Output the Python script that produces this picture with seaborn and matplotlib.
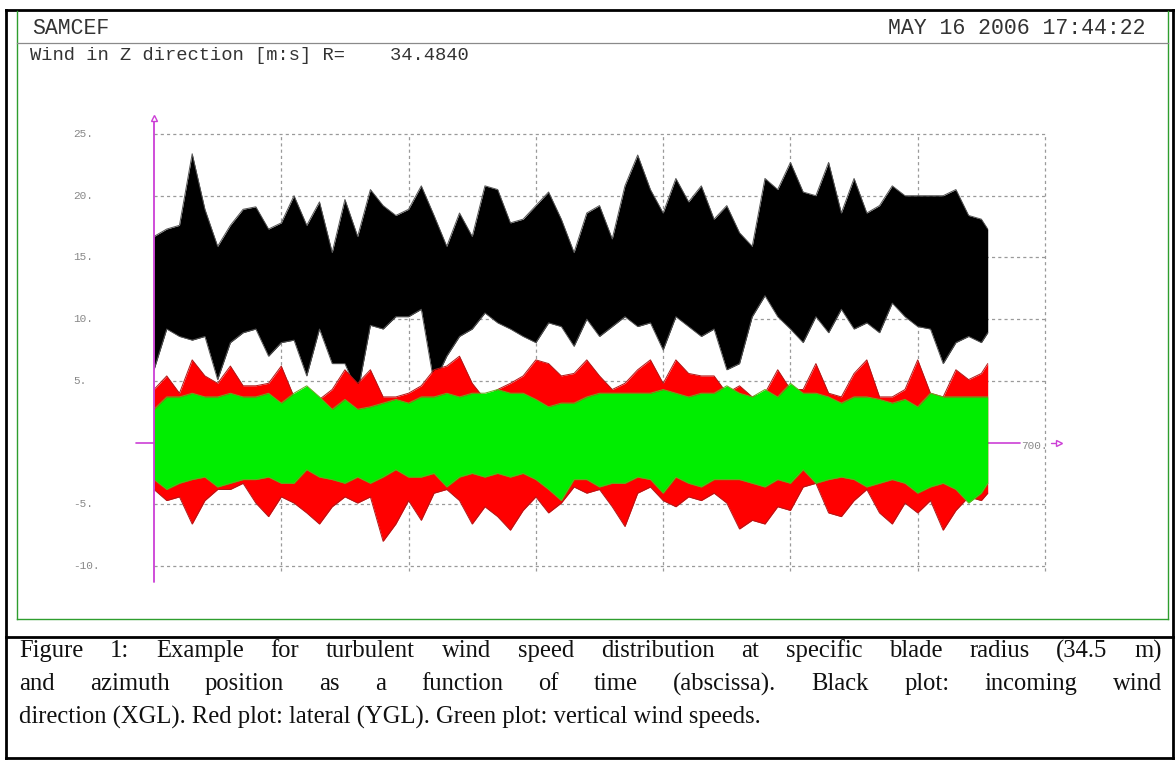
import numpy as np
import pandas as pd
import matplotlib
matplotlib.use("Agg")
import matplotlib.pyplot as plt
from matplotlib.lines import Line2D
import matplotlib.transforms as mtransforms
import seaborn as sns

sns.set_style("white")

# time of the trace (abscissa), envelopes of each wind component [m/s]
time = list(range(0, 651, 10)) + [655]

black_hi = [16.7, 17.3, 17.6, 23.4, 18.9, 15.9, 17.6, 18.9, 19.1, 17.3, 17.8, 20.0, 17.6, 19.5, 15.4, 19.7, 16.7,
            20.5, 19.2, 18.4, 18.9, 20.8, 18.4, 15.9, 18.6, 16.7, 20.8, 20.5, 17.8, 18.1, 19.2, 20.3, 18.1,
            15.4, 18.6, 19.2, 16.5, 20.8, 23.3, 20.5, 18.6, 21.4, 19.5, 20.8, 18.1, 19.2, 17.0, 15.9, 21.4, 20.5,
            22.7, 20.3, 20.0, 22.7, 18.6, 21.4, 18.6, 19.2, 20.8, 20.0, 20.0, 20.0, 20.0, 20.5, 18.4, 18.1, 17.3]
black_lo = [5.9, 9.2, 8.6, 8.3, 8.6, 5.1, 8.1, 8.9, 9.2, 7.0, 8.1, 8.3, 5.4, 9.2, 6.4, 6.4, 4.0,
            9.5, 9.2, 10.2, 10.2, 10.8, 4.8, 7.0, 8.6, 9.2, 10.5, 9.7, 9.2, 8.6, 8.1, 9.7, 9.4,
            7.8, 10.0, 8.6, 9.4, 10.2, 9.4, 9.7, 7.5, 10.2, 9.4, 8.6, 9.2, 5.9, 6.4, 10.2, 11.9, 10.2,
            9.2, 8.1, 10.2, 8.9, 10.8, 9.2, 9.7, 8.9, 11.3, 10.2, 9.4, 9.2, 6.4, 8.1, 8.6, 8.1, 8.9]
red_hi = [4.3, 5.4, 4.0, 6.7, 5.4, 4.8, 6.2, 4.6, 4.6, 4.8, 6.2, 3.7, 4.3, 3.5, 4.3, 5.9, 4.8,
          5.9, 3.7, 3.7, 4.0, 4.6, 5.9, 6.2, 7.0, 4.8, 3.5, 4.3, 4.8, 5.4, 6.7, 6.4, 5.4,
          5.6, 6.7, 5.4, 4.3, 4.8, 5.9, 6.7, 4.8, 6.7, 5.6, 5.4, 5.4, 4.0, 4.6, 3.7, 4.0, 5.9,
          4.3, 4.3, 6.4, 4.0, 3.7, 5.6, 6.7, 3.7, 3.7, 4.3, 6.7, 4.0, 3.7, 5.9, 5.1, 5.6, 6.4]
red_lo = [-3.8, -4.7, -4.4, -6.6, -4.7, -3.8, -3.8, -3.3, -4.9, -6.0, -4.4, -4.9, -5.7, -6.6, -5.2, -4.4, -4.9,
          -4.4, -8.0, -6.6, -4.7, -6.3, -4.1, -3.8, -4.7, -6.6, -5.2, -6.0, -7.1, -5.5, -4.4, -5.7, -4.9,
          -3.6, -4.1, -3.8, -5.2, -6.8, -4.1, -3.6, -4.7, -5.2, -4.4, -4.7, -4.1, -4.9, -7.0, -6.3, -6.6, -5.2,
          -5.5, -3.6, -3.3, -5.7, -6.0, -4.7, -3.8, -5.7, -6.6, -4.9, -5.7, -4.7, -7.1, -5.5, -4.4, -4.7, -4.1]
green_hi = [2.7, 3.7, 3.7, 4.0, 3.7, 3.7, 4.0, 3.7, 3.7, 4.0, 3.2, 4.0, 4.6, 3.7, 2.7, 3.5, 2.7,
            2.9, 3.2, 3.5, 3.2, 3.7, 3.7, 4.0, 3.7, 4.0, 4.0, 4.3, 4.0, 4.0, 3.5, 2.9, 3.2,
            3.2, 3.7, 4.0, 4.0, 4.0, 4.0, 4.0, 4.3, 4.0, 3.7, 4.0, 4.0, 4.6, 4.0, 3.7, 4.3, 3.7,
            4.8, 4.0, 4.0, 3.7, 3.2, 3.7, 3.7, 3.5, 3.2, 3.5, 2.9, 4.0, 3.7, 3.7, 3.7, 3.7, 3.7]
green_lo = [-3.0, -3.8, -3.3, -3.0, -2.8, -3.6, -3.3, -3.0, -3.0, -2.8, -3.3, -3.3, -2.2, -2.8, -3.0, -3.3, -2.8,
            -3.3, -2.8, -2.2, -2.8, -2.8, -2.5, -3.6, -2.8, -2.5, -2.8, -2.5, -2.8, -2.5, -3.0, -3.8, -4.7,
            -3.0, -3.0, -3.6, -3.3, -3.3, -2.8, -3.0, -4.1, -2.8, -3.3, -3.6, -3.0, -3.0, -3.0, -3.3, -3.6, -3.0,
            -3.3, -2.2, -3.3, -3.0, -2.8, -3.0, -3.6, -3.3, -3.0, -3.3, -4.1, -3.6, -3.3, -3.8, -4.9, -4.1, -3.3]

ytick_vals = [25, 20, 15, 10, 5, -5, -10]
ytick_labels = ["25.", "20.", "15.", "10.", "5.", "-5.", "-10."]

caption = [
    "Figure 1: Example for turbulent wind speed distribution at specific blade radius (34.5 m)",
    "and azimuth position as a function of time (abscissa). Black plot: incoming wind",
    "direction (XGL). Red plot: lateral (YGL). Green plot: vertical wind speeds.",
]

df = pd.DataFrame({"time": time,
                   "black_hi": black_hi, "black_lo": black_lo,
                   "red_hi": red_hi, "red_lo": red_lo,
                   "green_hi": green_hi, "green_lo": green_lo})

W, H = 1175, 760
fig = plt.figure(figsize=(W / 100, H / 100), dpi=100)
fig.patch.set_facecolor("white")


def fx(x):
    return x / W


def fy(y):
    return 1 - y / H


def fline(x0, y0, x1, y1, color, lw):
    fig.add_artist(Line2D([fx(x0), fx(x1)], [fy(y0), fy(y1)], color=color, lw=lw,
                          transform=fig.transFigure, solid_capstyle="projecting"))


# frames
fline(6, 10, 1173, 10, "black", 2)
fline(6, 10, 6, 758, "black", 2)
fline(1173, 10, 1173, 758, "black", 2)
fline(6, 637, 1173, 637, "black", 2)
fline(6, 758, 1173, 758, "black", 2)
fline(17, 11, 17, 619, "#2e9e2e", 1)
fline(1168, 11, 1168, 619, "#2e9e2e", 1)
fline(17, 619, 1168, 619, "#2e9e2e", 1)
fline(17, 43, 1168, 43, "#8a8a8a", 0.9)

mono = "Liberation Mono"
fig.text(fx(32), fy(29), "SAMCEF", family=mono, fontsize=15.5, color="#333333", va="center")
fig.text(fx(1146), fy(29), "MAY 16 2006 17:44:22", family=mono, fontsize=15.5, color="#333333",
         va="center", ha="right")
fig.text(fx(30), fy(56), "Wind in Z direction [m:s] R=    34.4840", family=mono, fontsize=13.5,
         color="#333333", va="center")

# plot area
ax = fig.add_axes([fx(154), fy(566), (1045 - 154) / W, (566 - 134) / H])
ax.set_xlim(0, 700)
ax.set_ylim(-10, 25)
ax.axis("off")

grid_kw = dict(color="#9a9a9a", lw=0.9, ls=(0, (2.5, 2.5)), zorder=0, clip_on=False)
for v in ytick_vals:
    ax.plot([0, 700], [v, v], **grid_kw)
for t in range(100, 701, 100):
    ax.plot([t, t], [-10.4, 25], **grid_kw)

magenta = "#cc3fd6"
ax.plot([-14, 680], [0, 0], color=magenta, lw=1.2, clip_on=False, zorder=1)
ax.plot([705, 711], [0, 0], color=magenta, lw=1, clip_on=False)
ax.plot(711, 0, marker=">", ms=5, mfc="white", mec=magenta, clip_on=False)
ax.text(681, -0.3, "700.", family=mono, fontsize=8, color="#888888", va="center", ha="left")

for hi, lo, fill, edge in [("black_hi", "black_lo", "black", "#555555"),
                           ("red_hi", "red_lo", "#ff0000", "#b01818"),
                           ("green_hi", "green_lo", "#00ee00", "#6aa820")]:
    ax.fill_between(df["time"], df[lo], df[hi], color=fill, lw=0, zorder=2)
    sns.lineplot(data=df, x="time", y=hi, color=edge, lw=0.7, ax=ax, legend=False, zorder=2)
    sns.lineplot(data=df, x="time", y=lo, color=edge, lw=0.7, ax=ax, legend=False, zorder=2)
ax.axis("off")

ax.plot([0, 0], [-11.3, 26.1], color=magenta, lw=1.3, clip_on=False, zorder=5)
ax.plot(0, 26.3, marker="^", ms=5, mfc="white", mec=magenta, clip_on=False, zorder=5)

trans = mtransforms.blended_transform_factory(fig.transFigure, ax.transData)
for v, lab in zip(ytick_vals, ytick_labels):
    ax.text(fx(73), v, lab, transform=trans, family=mono, fontsize=8, color="#888888", va="center")

# caption, justified like the document
serif = "Liberation Serif"
cap_size = 17.7
renderer = fig.canvas.get_renderer()
left, right = 19, 1162
line_y = [651, 684, 717]
for i, line in enumerate(caption):
    if i < len(caption) - 1:
        words = line.split(" ")
        widths = []
        for w in words:
            t = fig.text(0, 0, w, family=serif, fontsize=cap_size)
            widths.append(t.get_window_extent(renderer).width)
            t.remove()
        gap = (right - left - sum(widths)) / (len(words) - 1)
        x = left
        for w, wd in zip(words, widths):
            fig.text(fx(x), fy(line_y[i]), w, family=serif, fontsize=cap_size, color="#111111", va="center")
            x += wd + gap
    else:
        fig.text(fx(left), fy(line_y[i]), line, family=serif, fontsize=cap_size, color="#111111", va="center")

fig.savefig("out.png", dpi=100)
